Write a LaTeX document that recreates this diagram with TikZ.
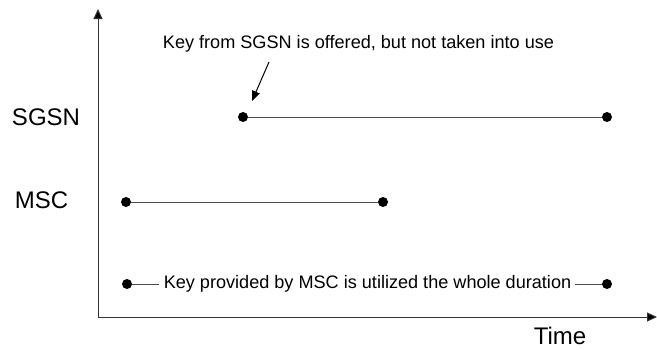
\documentclass[tikz,border=0pt]{standalone}
\usepackage{fontspec}
\setmainfont{Liberation Sans}
\usetikzlibrary{arrows.meta}
\begin{document}
\begin{tikzpicture}[x=1pt,y=-1pt,
  axis/.style={line width=1pt,draw=black!80,-{Triangle[length=10pt,width=9pt,fill=black]}},
  span/.style={line width=1pt,draw=black!70},
  dot/.style={circle,fill=black,inner sep=0pt,minimum size=10pt},
  lbl/.style={font=\fontsize{24}{26}\selectfont,inner sep=0pt,anchor=base},
  note/.style={font=\fontsize{18.1}{20}\selectfont,inner sep=0pt}]
\useasboundingbox (0,0) rectangle (657,349);
\coordinate (o) at (98,317);
\coordinate (ytop) at (98,9);
\coordinate (xend) at (657,317);
\draw[axis] (o) -- (ytop);
\draw[axis] (o) -- (xend);
% SGSN
\node[lbl] (sgsn) at (46,125) {SGSN};
\node[dot] (s1) at (243,117) {};
\node[dot] (s2) at (607,117) {};
\draw[span] (s1) -- (s2);
% MSC
\node[lbl] (msc) at (41.5,208) {MSC};
\node[dot] (m1) at (126,202) {};
\node[dot] (m2) at (383,202) {};
\draw[span] (m1) -- (m2);
% note top
\node[note] (keytop) at (358.5,44) {Key from SGSN is offered, but not taken into use};
\coordinate (arrs) at (269,62);
\coordinate (arre) at (252,101);
\draw[line width=1pt,-{Triangle[length=10pt,width=8pt]}] (arrs) -- (arre);
% bottom
\node[dot] (b1) at (127,284) {};
\node[dot] (b2) at (607,284) {};
\node[note] (keybot) at (367.5,284) {Key provided by MSC is utilized the whole duration};
\draw[span] (b1) -- ([xshift=-5pt]keybot.west);
\draw[span] ([xshift=4pt]keybot.east) -- (b2);
% time
\node[lbl] (time) at (560,344.5) {Time};
\end{tikzpicture}
\end{document}
